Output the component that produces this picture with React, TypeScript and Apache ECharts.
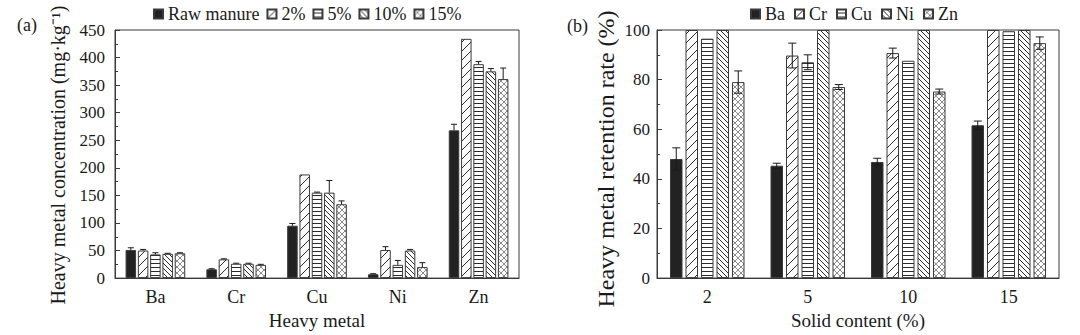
import React, { useEffect, useRef } from "react";
import * as echarts from "echarts";

// ---------- Panel (a): heavy metal concentration (mg·kg⁻¹) ----------
const metals = ["Ba", "Cr", "Cu", "Ni", "Zn"];
const treatmentNames = ["Raw manure", "2%", "5%", "10%", "15%"];
const rawManure = [51, 16, 95, 7, 268];
const pct2 = [50, 34, 188, 51, 434];
const pct5 = [43, 26, 155, 24, 388];
const pct10 = [44, 26, 155, 50, 375];
const pct15 = [45, 24, 134, 20, 361];
const rawManureErr = [4, 1, 4, 1, 11];
const pct2Err = [2, 1, 0, 6, 0];
const pct5Err = [3, 1, 1, 8, 5];
const pct10Err = [1, 1, 22, 2, 5];
const pct15Err = [1, 1, 6, 8, 20];
const concTicks = { min: 0, max: 450, interval: 50 };

// ---------- Panel (b): heavy metal retention rate (%) ----------
const solidContents = ["2", "5", "10", "15"];
const retBa = [48, 45.3, 46.8, 61.6];
const retCr = [100, 89.7, 90.7, 100];
const retCu = [96.5, 87, 87.6, 99.5];
const retNi = [100, 100, 100, 100];
const retZn = [79, 77, 75.2, 94.7];
const retBaErr = [4.5, 1, 1.5, 1.7];
const retCrErr = [0, 5, 2, 0];
const retCuErr = [0, 3, 0, 0];
const retNiErr = [0, 0, 0, 0];
const retZnErr = [4.5, 1, 1, 2.5];
const retTicks = { min: 0, max: 100, interval: 20 };

const FONT = "Liberation Serif";
const INK = "#1a1a1a";
const EDGE = "#3a3a3a";

function makePattern(kind: string): any {
  const s = kind === "fwd" ? 9 : kind === "back" ? 5 : kind === "horiz" ? 4 : 6;
  const c = document.createElement("canvas");
  c.width = s;
  c.height = s;
  const ctx = c.getContext("2d")!;
  ctx.fillStyle = "#ffffff";
  ctx.fillRect(0, 0, s, s);
  ctx.lineWidth = 1;
  ctx.strokeStyle = kind === "cross" ? "#8a8a8a" : "#2a2a2a";
  ctx.beginPath();
  if (kind === "horiz") {
    ctx.moveTo(0, s - 0.5);
    ctx.lineTo(s, s - 0.5);
  }
  if (kind === "fwd" || kind === "cross") {
    ctx.moveTo(0, s);
    ctx.lineTo(s, 0);
    ctx.moveTo(-1, 1);
    ctx.lineTo(1, -1);
    ctx.moveTo(s - 1, s + 1);
    ctx.lineTo(s + 1, s - 1);
  }
  if (kind === "back" || kind === "cross") {
    ctx.moveTo(0, 0);
    ctx.lineTo(s, s);
    ctx.moveTo(-1, s - 1);
    ctx.lineTo(1, s + 1);
    ctx.moveTo(s - 1, -1);
    ctx.lineTo(s + 1, 1);
  }
  ctx.stroke();
  return { image: c, repeat: "repeat", imageWidth: s, imageHeight: s };
}

export default function App() {
  const ref = useRef<HTMLDivElement>(null);

  useEffect(() => {
    document.body.style.margin = "0";
    const chart = echarts.init(ref.current!, null, { renderer: "svg" });

    const fills = [
      "#222222",
      makePattern("fwd"),
      makePattern("horiz"),
      makePattern("back"),
      makePattern("cross"),
    ];

    const leftBW = 10.5;
    const leftGap = 0.17;
    const rightBW = 12.5;
    const rightGap = 0.24;

    const barSeries = (
      name: string,
      data: number[],
      i: number,
      axis: number,
      bw: number,
      gap: number
    ) => ({
      name,
      type: "bar",
      xAxisIndex: axis,
      yAxisIndex: axis,
      data,
      barWidth: bw,
      barGap: `${Math.round(gap * 100)}%`,
      itemStyle: { color: fills[i], borderColor: EDGE, borderWidth: 1 },
      z: 2,
    });

    const errSeries = (
      name: string,
      values: number[],
      errs: number[],
      i: number,
      n: number,
      axis: number,
      pitch: number,
      capHalf: number,
      both: boolean
    ) => ({
      name: "err-" + name,
      type: "custom",
      xAxisIndex: axis,
      yAxisIndex: axis,
      silent: true,
      z: 5,
      data: values.map((v, k) => [k, v, errs[k]]).filter((d) => d[2] > 0),
      renderItem: (params: any, api: any) => {
        const ci = api.value(0);
        const v = api.value(1);
        const e = api.value(2);
        const off = (i - (n - 1) / 2) * pitch;
        const top = api.coord([ci, v + e]);
        const bot = api.coord([ci, both ? v - e : v]);
        const x = top[0] + off;
        const st = { stroke: INK, lineWidth: 1 };
        const children: any[] = [
          { type: "line", shape: { x1: x, y1: top[1], x2: x, y2: bot[1] }, style: st },
          { type: "line", shape: { x1: x - capHalf, y1: top[1], x2: x + capHalf, y2: top[1] }, style: st },
        ];
        if (both)
          children.push({
            type: "line",
            shape: { x1: x - capHalf, y1: bot[1], x2: x + capHalf, y2: bot[1] },
            style: st,
          });
        return { type: "group", children };
      },
    });

    const leftVals = [rawManure, pct2, pct5, pct10, pct15];
    const leftErrs = [rawManureErr, pct2Err, pct5Err, pct10Err, pct15Err];
    const rightVals = [retBa, retCr, retCu, retNi, retZn];
    const rightErrs = [retBaErr, retCrErr, retCuErr, retNiErr, retZnErr];

    const series: any[] = [];
    treatmentNames.forEach((nm, i) => series.push(barSeries(nm, leftVals[i], i, 0, leftBW, leftGap)));
    metals.forEach((nm, i) => series.push(barSeries(nm, rightVals[i], i, 1, rightBW, rightGap)));
    treatmentNames.forEach((nm, i) =>
      series.push(errSeries(nm, leftVals[i], leftErrs[i], i, 5, 0, leftBW * (1 + leftGap), 3, false))
    );
    metals.forEach((nm, i) =>
      series.push(errSeries(nm, rightVals[i], rightErrs[i], i, 5, 1, rightBW * (1 + rightGap), 4, true))
    );

    const textBase = { fontFamily: FONT, color: INK };

    const yAxisCommon = (idx: number, t: any, margin: number) => ({
      type: "value",
      gridIndex: idx,
      min: t.min,
      max: t.max,
      interval: t.interval,
      axisLine: { show: true, lineStyle: { color: EDGE, width: 1 } },
      axisTick: { show: true, inside: true, length: 5, lineStyle: { color: EDGE } },
      minorTick: { show: true, splitNumber: 2, length: 3, lineStyle: { color: EDGE } },
      splitLine: { show: false },
      axisLabel: { ...textBase, fontSize: 17, margin },
    });

    const xAxisCommon = (idx: number, data: string[], name: string) => ({
      type: "category",
      gridIndex: idx,
      data,
      name,
      nameLocation: "middle",
      nameGap: 32,
      nameTextStyle: { ...textBase, fontSize: 19 },
      axisLine: { show: true, lineStyle: { color: EDGE, width: 1 } },
      axisTick: { show: false },
      axisLabel: { ...textBase, fontSize: 18, margin: 10 },
    });

    const legendCommon = {
      top: 0,
      icon: "rect",
      itemWidth: 9,
      itemHeight: 9,
      selectedMode: false,
      formatter: "{t|{name}}",
      textStyle: {
        fontFamily: FONT,
        color: INK,
        fontSize: 18,
        rich: { t: { fontFamily: FONT, fontSize: 18, color: INK } },
      },
    };

    chart.setOption({
      animation: false,
      backgroundColor: "#ffffff",
      textStyle: { fontFamily: FONT },
      grid: [
        { left: 115, top: 30, width: 404, height: 251, show: true, borderColor: EDGE, borderWidth: 1 },
        { left: 657, top: 30, width: 402, height: 251, show: true, borderColor: EDGE, borderWidth: 1 },
      ],
      legend: [
        { ...legendCommon, left: 148, itemGap: 7, data: treatmentNames },
        { ...legendCommon, left: 745, itemGap: 9, data: metals },
      ],
      xAxis: [
        xAxisCommon(0, metals, "Heavy metal"),
        xAxisCommon(1, solidContents, "Solid content (%)"),
      ],
      yAxis: [yAxisCommon(0, concTicks, 10), yAxisCommon(1, retTicks, 7)],
      graphic: [
        { type: "text", left: 17, top: 16, style: { text: "(a)", fill: INK, font: `18px ${FONT}` } },
        { type: "text", left: 567, top: 17, style: { text: "(b)", fill: INK, font: `18px ${FONT}` } },
        {
          type: "text",
          x: 58,
          y: 155,
          rotation: Math.PI / 2,
          style: {
            text: "Heavy metal concentration (mg·kg⁻¹)",
            fill: INK,
            font: `20px ${FONT}`,
            align: "center",
            verticalAlign: "middle",
          },
        },
        {
          type: "text",
          x: 606,
          y: 159,
          rotation: Math.PI / 2,
          style: {
            text: "Heavy metal retention rate (%)",
            fill: INK,
            font: `24px ${FONT}`,
            align: "center",
            verticalAlign: "middle",
          },
        },
      ],
      series,
    });

    return () => chart.dispose();
  }, []);

  return <div ref={ref} style={{ width: 1080, height: 335 }} />;
}
